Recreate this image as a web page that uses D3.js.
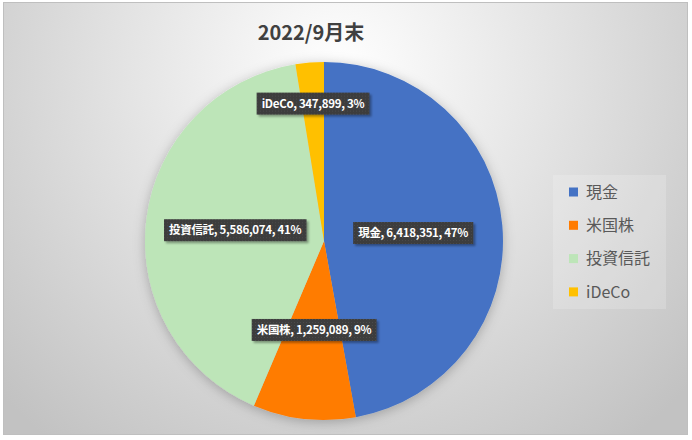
<!DOCTYPE html>
<html>
<head>
<meta charset="utf-8">
<script src="https://cdn.jsdelivr.net/npm/d3@7"></script>
<style>
  body { margin: 0; background: #fff; }
  svg { display: block; font-family: "Noto Sans CJK JP", "Noto Sans", sans-serif; }
</style>
</head>
<body>
<svg id="chart"></svg>
<script>
// データ
const categories = ["現金", "米国株", "投資信託", "iDeCo"];
const amounts = [6418351, 1259089, 5586074, 347899];
const colors = ["#4472C4", "#FF7B00", "#BDE5B8", "#FFC000"];
const titleText = "2022/9月末";

let width = 692;
let height = 440;

let svg = d3.select("#chart")
  .attr("width", width)
  .attr("height", height);

let defs = svg.append("defs");

// 背景グラデーション
let bg = defs.append("radialGradient")
  .attr("id", "bg")
  .attr("gradientUnits", "userSpaceOnUse")
  .attr("cx", 340).attr("cy", 70)
  .attr("r", 470);
bg.append("stop").attr("offset", "0%").attr("stop-color", "#ffffff");
bg.append("stop").attr("offset", "45%").attr("stop-color", "#e4e4e4");
bg.append("stop").attr("offset", "100%").attr("stop-color", "#c2c2c2");

let pieShadow = defs.append("filter").attr("id", "pieShadow")
  .attr("x", "-20%").attr("y", "-20%").attr("width", "140%").attr("height", "140%");
pieShadow.append("feDropShadow")
  .attr("dx", 0).attr("dy", 2)
  .attr("stdDeviation", 6)
  .attr("flood-color", "#000")
  .attr("flood-opacity", 0.25);

let boxShadow = defs.append("filter").attr("id", "boxShadow")
  .attr("x", "-10%").attr("y", "-30%").attr("width", "130%").attr("height", "170%");
boxShadow.append("feDropShadow")
  .attr("dx", 2).attr("dy", 2)
  .attr("stdDeviation", 1.2)
  .attr("flood-color", "#000")
  .attr("flood-opacity", 0.35);

let dots = defs.append("pattern")
  .attr("id", "dots")
  .attr("patternUnits", "userSpaceOnUse")
  .attr("width", 3).attr("height", 3);
dots.append("rect").attr("width", 3).attr("height", 3).attr("fill", "#3c3c3c");
dots.append("rect").attr("x", 1).attr("y", 1).attr("width", 1).attr("height", 1).attr("fill", "#4c4c4c");

svg.append("rect")
  .attr("x", 3.5).attr("y", 2.5)
  .attr("width", 684).attr("height", 432)
  .attr("fill", "url(#bg)")
  .attr("stroke", "#bfbfbf")
  .attr("stroke-width", 1);

// タイトル
svg.append("text")
  .attr("x", 311)
  .attr("y", 40)
  .attr("text-anchor", "middle")
  .attr("font-size", 20)
  .attr("font-weight", "bold")
  .attr("fill", "#404040")
  .text(titleText);

// 円グラフ
let cx = 324, cy = 241, radius = 179;
let total = d3.sum(amounts);

let pieData = d3.pie().sort(null).value(d => d.value)(
  categories.map((c, i) => ({ name: c, value: amounts[i], color: colors[i] }))
);

let arc = d3.arc().innerRadius(0).outerRadius(radius);

let g = svg.append("g").attr("transform", `translate(${cx}, ${cy})`);

g.append("g")
  .attr("filter", "url(#pieShadow)")
  .selectAll("path")
  .data(pieData)
  .enter()
  .append("path")
  .attr("d", arc)
  .attr("fill", d => d.data.color);

// データラベル
let fmt = d3.format(",");
let labels = g.selectAll(".lbl")
  .data(pieData)
  .enter()
  .append("g")
  .attr("class", "lbl")
  .attr("transform", function(d) {
    // 小さい扇形はラベルを外側へ
    let r = (d.endAngle - d.startAngle) < 0.3 ? radius * 0.77 : radius * 0.5;
    let a = (d.startAngle + d.endAngle) / 2;
    return `translate(${Math.sin(a) * r}, ${-Math.cos(a) * r})`;
  });

labels.append("text")
  .attr("text-anchor", "middle")
  .attr("dy", "0.36em")
  .attr("font-size", 11.5)
  .attr("font-weight", "bold")
  .attr("letter-spacing", -0.3)
  .attr("fill", "#ffffff")
  .text(d => `${d.data.name}, ${fmt(d.data.value)}, ${Math.round(d.data.value / total * 100)}%`);

labels.each(function() {
  let grp = d3.select(this);
  let bb = grp.select("text").node().getBBox();
  grp.insert("rect", "text")
    .attr("x", bb.x - 5)
    .attr("y", -11)
    .attr("width", bb.width + 10)
    .attr("height", 22)
    .attr("fill", "url(#dots)")
    .attr("filter", "url(#boxShadow)");
});

// 凡例
let legend = svg.append("g");
legend.append("rect")
  .attr("x", 553).attr("y", 175)
  .attr("width", 113).attr("height", 134)
  .attr("fill", "#ffffff")
  .attr("fill-opacity", 0.18);

let items = legend.selectAll(".item")
  .data(categories)
  .enter()
  .append("g")
  .attr("class", "item")
  .attr("transform", (d, i) => `translate(569, ${192 + i * 33.3})`);

items.append("rect")
  .attr("x", 0).attr("y", -4.5)
  .attr("width", 9).attr("height", 9)
  .attr("fill", (d, i) => colors[i]);

items.append("text")
  .attr("x", 17)
  .attr("dy", "0.36em")
  .attr("font-size", 16)
  .attr("fill", "#595959")
  .text(d => d);
</script>
</body>
</html>
